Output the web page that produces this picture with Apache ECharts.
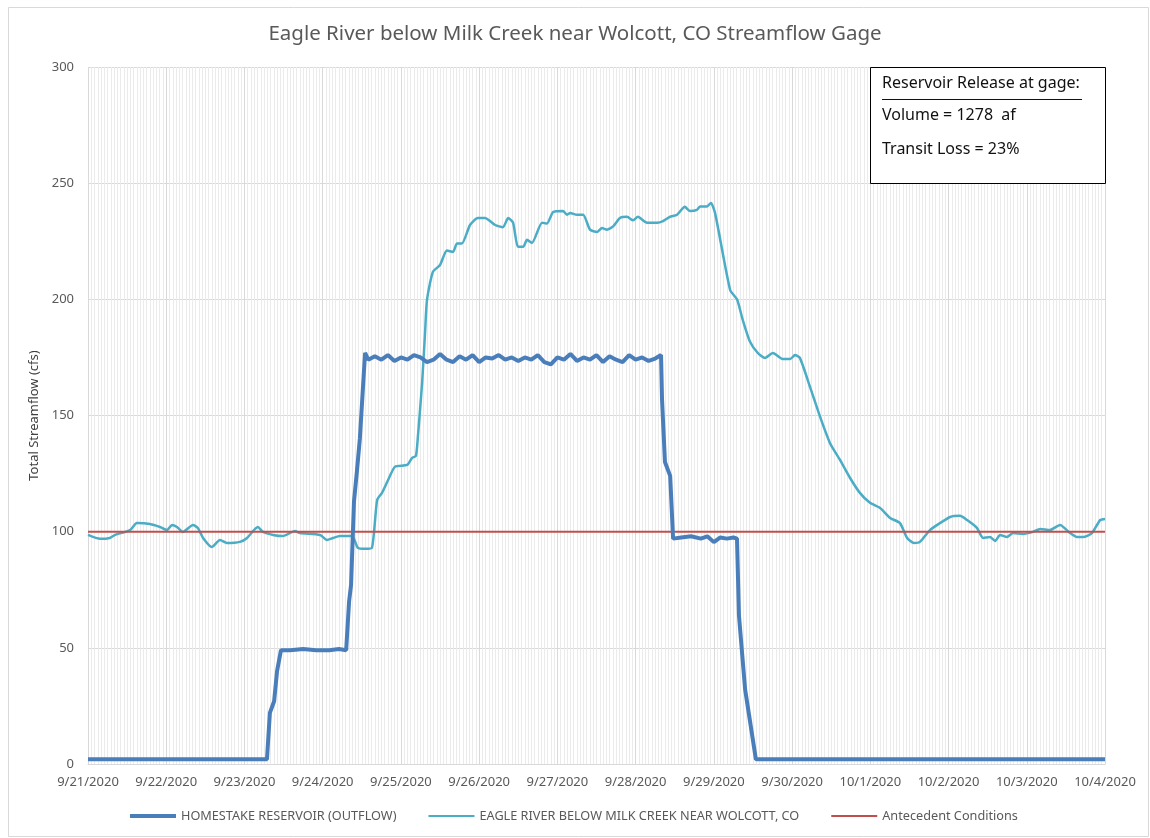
<!DOCTYPE html>
<html><head><meta charset="utf-8">
<script src="https://cdn.jsdelivr.net/npm/echarts@6/dist/echarts.min.js"></script>
<style>html,body{margin:0;padding:0;background:#fff}#c{width:1150px;height:838px}</style>
</head><body><div id="c"></div>
<script>
// x values are hours since 9/21/2020 00:00
const tickLabels = ['9/21/2020','9/22/2020','9/23/2020','9/24/2020','9/25/2020','9/26/2020','9/27/2020','9/28/2020','9/29/2020','9/30/2020','10/1/2020','10/2/2020','10/3/2020','10/4/2020'];

const homestakeHours = [0, 54.9, 55.8, 57.1, 58.0, 59.2, 62, 66, 70, 74, 77, 79.2, 80.1, 80.7, 81.6, 82.5, 83.4, 85,
  86, 88, 90, 92, 94, 96, 98, 100, 102, 104, 106, 108, 110, 112, 114, 116, 118, 120, 122, 124, 126, 128, 130,
  132, 134, 136, 138, 140, 142, 144, 146, 148, 150, 152, 154, 156, 158, 160, 162, 164, 166, 168, 170, 172, 174, 175.8,
  176.1, 177.0, 178.6, 179.5, 182, 185, 188, 190, 192, 194, 196, 198, 199.1, 199.7, 201.6, 204.9, 312];
const homestakeFlow = [2, 2, 22, 27, 40, 49, 49, 49.5, 49, 49, 49.5, 49, 70, 77, 113, 126, 140, 177,
  174, 175.5, 174, 176, 173.5, 175, 174, 176, 175, 173, 174, 176.5, 174, 173, 175.5, 174, 176, 173, 175, 174.5, 176, 174, 175,
  173.5, 175, 174, 176, 173, 172, 175, 174, 176.5, 173.5, 175, 174, 176, 173, 175.5, 174, 173, 176, 174, 175, 173.5, 174.5, 176,
  157, 130, 124, 97, 97.5, 98, 97, 98, 95.5, 97.5, 97, 97.5, 97, 64, 32, 2, 2];

const eagleHours = [0, 3.7, 6.7, 8.3, 12.9, 15.0, 19.0, 22.1, 24.2, 25.8, 27.3, 29.1, 32.2, 33.7, 35.3, 38.0, 40.5, 42.6,
  46.6, 48.8, 52.1, 53.7, 56.8, 59.8, 63.5, 65.0, 71.2, 73.3, 75.2, 77.3, 81.0, 82.8, 85.0, 87.1, 88.7, 90.2, 92.0,
  94.2, 97.9, 99.4, 100.6, 101.2, 102.5, 103.4, 104.0, 105.8, 108.0, 110.1, 112.0, 113.2, 114.7, 117.2, 119.6, 121.8,
  124.9, 127.3, 128.9, 130.4, 131.9, 133.5, 134.7, 136.2, 139.3, 140.8, 142.7, 145.7, 147.0, 147.9, 150.0, 151.9,
  154.0, 156.2, 157.7, 159.2, 161.1, 163.2, 165.4, 167.2, 168.7, 171.5, 174.6, 176.4, 178.5, 180.7, 183.1, 184.7,
  186.8, 187.8, 189.9, 191.1, 192.4, 197.0, 199.1, 200.9, 203.1, 205.5, 207.7, 210.1, 213.2, 215.4, 216.9, 218.4,
  221.5, 224.6, 227.6, 230.7, 233.8, 236.8, 239.9, 243.0, 246.1, 249.1, 251.3, 253.4, 255.2, 258.3, 261.4, 264.5,
  267.5, 269.7, 272.7, 274.6, 276.7, 278.3, 279.8, 281.9, 283.8, 286.8, 289.9, 292.1, 295.1, 298.2, 301.3, 303.4,
  305.3, 308.0, 310.5, 312];
const eagleFlow = [98.6, 96.9, 97.3, 98.6, 100.7, 103.7, 103.3, 102, 100.7, 102.9, 102, 99.9, 102.9, 101.6, 97.3, 93.4, 96.4, 95.1,
  95.6, 97.3, 102, 99.9, 98.6, 98.1, 100.3, 99.4, 98.6, 96.4, 97.3, 98.1, 98.1, 93, 92.6, 93, 113.6, 116.7, 122,
  128, 128.7, 131.7, 132.6, 140.8, 164, 185.5, 199.7, 211.8, 214.8, 221, 220.4, 224, 224, 232, 235, 235,
  232, 231, 235, 233, 222.6, 222.6, 225.6, 224.3, 233, 232.6, 237.6, 238, 236.4, 237.2, 236.4, 236.4,
  230, 229, 230.7, 230, 231.4, 235, 235.5, 234, 235.5, 233, 233, 233.7, 235.5, 236.4, 239.8, 238,
  238.5, 240, 240, 241.5, 237, 204, 200, 191, 181.7, 176.9, 174.8, 176.9, 174.3, 174.3, 176, 174.8,
  162.3, 149.4, 138.2, 130.9, 123.1, 116.7, 112.4, 110.2, 105.9, 103.7, 97.3, 95.1, 95.6, 100.7, 103.7, 106.3,
  106.8, 105, 101.6, 97.3, 97.7, 96, 98.6, 97.7, 99.4, 99, 99.9, 101.2, 100.7, 102.9, 99.4, 97.7,
  97.7, 99.4, 105, 105.5];

const antecedentHours = [0, 312];
const antecedentFlow = [100, 100];

const seriesNames = ['HOMESTAKE RESERVOIR (OUTFLOW)', 'EAGLE RIVER BELOW MILK CREEK NEAR WOLCOTT, CO', 'Antecedent Conditions'];
const boxLines = ['Reservoir Release at gage:', 'Volume = 1278  af', 'Transit Loss = 23%'];
const titleText = 'Eagle River below Milk Creek near Wolcott, CO Streamflow Gage';
const yAxisName = 'Total Streamflow (cfs)';

const zip = (xs, ys) => xs.map((x, i) => [x, ys[i]]);
const FONT = 'Noto Sans';
const COLORS = ['#4a7ebb', '#4bacc6', '#c0504d'];
// legend line icons of given thickness inside a 46x14 box
const lineIcon = t => {
  const a = 7 - t / 2, b = 7 + t / 2;
  return `path://M0,0L0.001,0L0,0.001Z M0,${a}L46,${a}L46,${b}L0,${b}Z M46,14L45.999,14L46,13.999Z`;
};

const chart = echarts.init(document.getElementById('c'), null, {renderer: 'canvas'});
chart.setOption({
  animation: false,
  backgroundColor: '#fff',
  title: {text: titleText, left: 'center', top: 19,
    textStyle: {fontFamily: FONT, fontSize: 20.5, fontWeight: 'normal', color: '#595959'}},
  grid: {left: 88, right: 45, top: 67, bottom: 74, containLabel: false},
  xAxis: {
    type: 'value', min: 0, max: 312, interval: 24,
    axisLine: {show: true, lineStyle: {color: '#d9d9d9'}},
    axisTick: {show: false},
    axisLabel: {fontFamily: FONT, fontSize: 13, color: '#595959', margin: 12,
      formatter: v => tickLabels[Math.round(v / 24)]},
    splitLine: {show: true, lineStyle: {color: '#d9d9d9', width: 1}},
    minorTick: {show: false, splitNumber: 24},
    minorSplitLine: {show: true, lineStyle: {color: '#ebebeb', width: 1}}
  },
  yAxis: {
    type: 'value', min: 0, max: 300, interval: 50,
    name: yAxisName, nameLocation: 'middle', nameGap: 44,
    nameTextStyle: {fontFamily: FONT, fontSize: 13, color: '#404040'},
    axisLine: {show: false}, axisTick: {show: false},
    axisLabel: {fontFamily: FONT, fontSize: 13, color: '#595959', margin: 14},
    splitLine: {show: true, lineStyle: {color: '#d9d9d9', width: 1}}
  },
  legend: {
    bottom: 10, left: 125, itemGap: 32, itemWidth: 46, itemHeight: 14,
    textStyle: {fontFamily: FONT, fontSize: 12.7, color: '#595959'},
    data: [
      {name: seriesNames[0], icon: lineIcon(4), itemStyle: {color: COLORS[0]}},
      {name: seriesNames[1], icon: lineIcon(2), itemStyle: {color: COLORS[1]}},
      {name: seriesNames[2], icon: lineIcon(2), itemStyle: {color: COLORS[2]}}
    ]
  },
  series: [
    {name: seriesNames[1], type: 'line', data: zip(eagleHours, eagleFlow), showSymbol: false, symbol: 'none',
      lineStyle: {color: COLORS[1], width: 2.5}, itemStyle: {color: COLORS[1]}, smooth: 0.2, z: 3},
    {name: seriesNames[2], type: 'line', data: zip(antecedentHours, antecedentFlow), showSymbol: false, symbol: 'none',
      lineStyle: {color: COLORS[2], width: 2}, itemStyle: {color: COLORS[2]}, z: 4},
    {name: seriesNames[0], type: 'line', data: zip(homestakeHours, homestakeFlow), showSymbol: false, symbol: 'none',
      lineStyle: {color: COLORS[0], width: 4}, itemStyle: {color: COLORS[0]}, z: 5}
  ],
  graphic: [
    {type: 'rect', left: 6, top: 5, shape: {width: 1140, height: 829}, silent: true,
      style: {fill: 'none', stroke: '#d9d9d9', lineWidth: 1}, z: -1},
    {type: 'rect', left: 870, top: 67, shape: {width: 235, height: 116},
      style: {fill: '#fff', stroke: '#000', lineWidth: 1}, z: 100},
    {type: 'text', left: 882, top: 75, z: 101,
      style: {text: boxLines[0], fontFamily: FONT, fontSize: 16, fill: '#111'}},
    {type: 'line', z: 101, shape: {x1: 882, y1: 99.5, x2: 1082, y2: 99.5}, style: {stroke: '#111', lineWidth: 1}},
    {type: 'text', left: 882, top: 107, z: 101,
      style: {text: boxLines[1], fontFamily: FONT, fontSize: 16, fill: '#111'}},
    {type: 'text', left: 882, top: 141, z: 101,
      style: {text: boxLines[2], fontFamily: FONT, fontSize: 16, fill: '#111'}}
  ]
});
</script></body></html>
